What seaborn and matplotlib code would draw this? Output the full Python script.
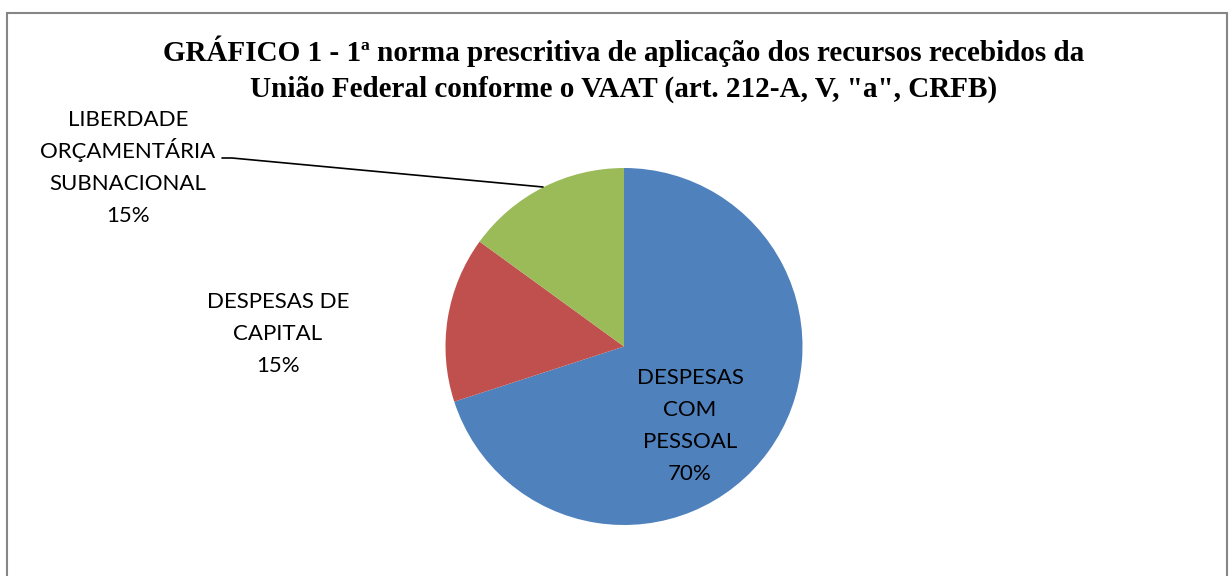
import seaborn as sns
import matplotlib.pyplot as plt
from matplotlib.patches import Rectangle

# data
categories = ['DESPESAS\nCOM\nPESSOAL', 'DESPESAS DE\nCAPITAL', 'LIBERDADE\nORÇAMENTÁRIA\nSUBNACIONAL']
values = [70, 15, 15]
colors = ['#4F81BD', '#C0504D', '#9BBB59']
title_lines = ["GRÁFICO 1 - 1ª norma prescritiva de aplicação dos recursos recebidos da",
               "União Federal conforme o VAAT (art. 212-A, V, \"a\", CRFB)"]

sns.set_theme(style='white')
plt.rcParams['font.family'] = ['Lato', 'DejaVu Sans']

W, H = 1230, 576
fig = plt.figure(figsize=(W / 100, H / 100), dpi=100)
ax = fig.add_axes([0, 0, 1, 1])

# pie, working in pixel-like coordinates (y up)
cx, cy, r = 624, H - 346.5, 178.5
ax.pie(values, colors=colors, startangle=90, counterclock=False,
       center=(cx, cy), radius=r, frame=True,
       wedgeprops=dict(linewidth=0))
ax.set_xlim(0, W)
ax.set_ylim(0, H)
ax.set_aspect('equal')
ax.axis('off')

# data labels, one line at a time on fixed baselines
lbl_top = [(690, 376), (278, 300), (128, 118)]
step = 32
for cat, v, (x, y0) in zip(categories, values, lbl_top):
    lines = cat.split('\n') + [f'{v}%']
    for i, s in enumerate(lines):
        ax.text(x, H - (y0 + i * step + 8), s, ha='center', va='baseline',
                fontsize=16, color='black')

# leader line for the green slice
ax.plot([222, 232, 543], [H - 158, H - 158, H - 187], color='black', lw=1.2)

# title
for i, s in enumerate(title_lines):
    ax.text(624, H - (52 + i * 36 + 9), s, ha='center', va='baseline',
            fontsize=21, fontweight='bold', color='black',
            family=['Liberation Serif', 'DejaVu Serif'])

# chart border
ax.add_patch(Rectangle((7, -20), 1220, H - 13 + 20, fill=False,
                       edgecolor='#868686', lw=1.5))

fig.savefig('out.png', dpi=100)
